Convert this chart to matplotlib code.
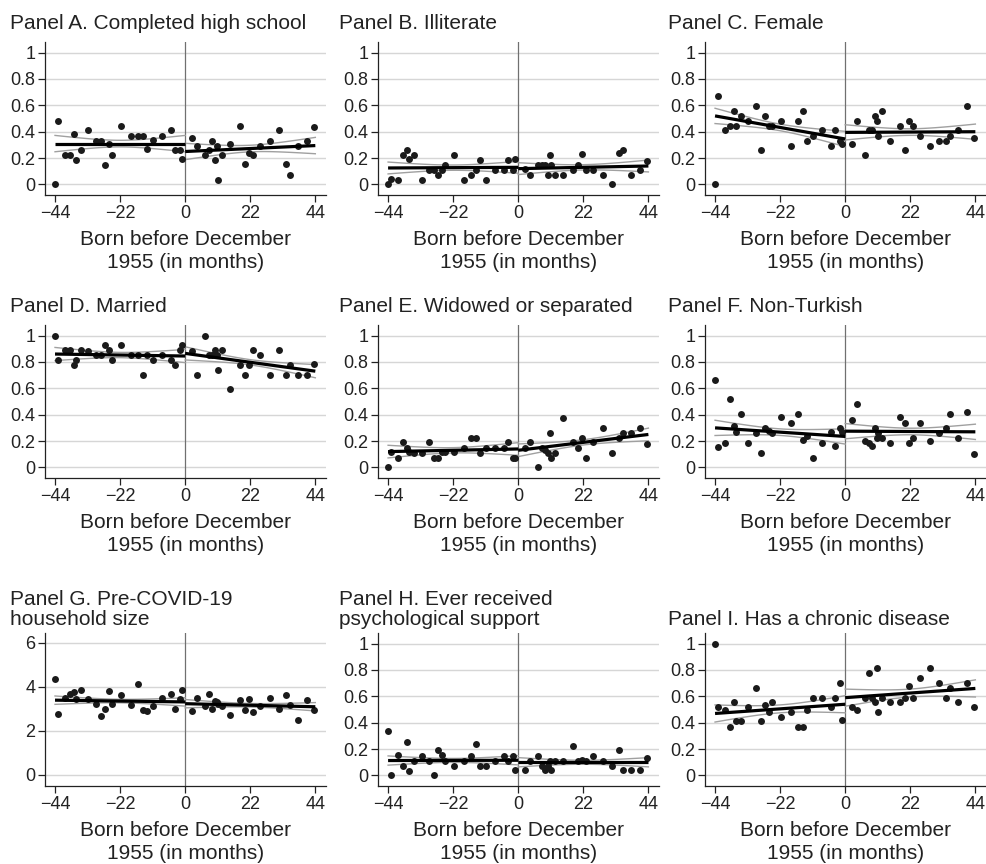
import numpy as np
import matplotlib
matplotlib.use("Agg")
import matplotlib.pyplot as plt

plt.rcParams["font.family"] = ["Liberation Sans", "DejaVu Sans"]

# Binned means of each outcome, by month of birth relative to December 1955.
# The same month bins are used in every panel (24 before, 22 after the cutoff).
months = [-44, -43, -40.5, -38.8, -37.6, -37, -35.2, -32.7, -30.3, -28.5, -27.2, -25.8,
          -24.8, -21.8, -18.4, -16.1, -14.4, -12.9, -10.8, -7.7, -4.9, -3.4, -1.7, -1.0,
          2.2, 4.1, 6.6, 8.1, 9.2, 10.2, 10.9, 11.1, 12.3, 15.2, 18.4, 20.3, 21.7, 23.0,
          25.3, 28.7, 31.7, 34.0, 35.4, 38.0, 41.2, 43.4]

high_school = [0, 0.485, 0.225, 0.225, 0.386, 0.187, 0.26, 0.41, 0.33, 0.33, 0.15, 0.305,
               0.225, 0.445, 0.37, 0.37, 0.37, 0.27, 0.335, 0.37, 0.41, 0.26, 0.26, 0.19,
               0.35, 0.295, 0.225, 0.26, 0.33, 0.187, 0.295, 0.035, 0.225, 0.305, 0.445, 0.155,
               0.235, 0.225, 0.295, 0.33, 0.41, 0.155, 0.075, 0.295, 0.33, 0.435]
illiterate = [0, 0.04, 0.035, 0.225, 0.26, 0.195, 0.225, 0.035, 0.11, 0.11, 0.075, 0.11,
              0.15, 0.225, 0.035, 0.075, 0.11, 0.187, 0.035, 0.11, 0.11, 0.187, 0.11, 0.19,
              0.115, 0.075, 0.15, 0.15, 0.15, 0.075, 0.225, 0.15, 0.075, 0.075, 0.11, 0.15,
              0.23, 0.11, 0.11, 0.075, 0, 0.24, 0.26, 0.075, 0.11, 0.175]
female = [0, 0.67, 0.41, 0.445, 0.56, 0.445, 0.52, 0.485, 0.595, 0.26, 0.52, 0.445,
          0.445, 0.485, 0.295, 0.485, 0.56, 0.33, 0.37, 0.41, 0.295, 0.41, 0.33, 0.305,
          0.305, 0.485, 0.225, 0.41, 0.41, 0.52, 0.485, 0.37, 0.56, 0.33, 0.445, 0.26,
          0.485, 0.445, 0.37, 0.295, 0.33, 0.33, 0.37, 0.41, 0.595, 0.35]
married = [1.0, 0.817, 0.89, 0.89, 0.78, 0.817, 0.89, 0.885, 0.85, 0.85, 0.93, 0.89,
           0.817, 0.93, 0.85, 0.85, 0.70, 0.85, 0.817, 0.85, 0.817, 0.78, 0.89, 0.93,
           0.885, 0.70, 1.0, 0.85, 0.85, 0.89, 0.85, 0.74, 0.89, 0.595, 0.78, 0.70,
           0.78, 0.89, 0.85, 0.70, 0.89, 0.70, 0.78, 0.70, 0.70, 0.785]
widowed = [0, 0.118, 0.075, 0.19, 0.15, 0.118, 0.113, 0.113, 0.196, 0.075, 0.075, 0.118,
           0.118, 0.118, 0.15, 0.226, 0.226, 0.113, 0.15, 0.15, 0.15, 0.19, 0.075, 0.075,
           0.15, 0.19, 0, 0.15, 0.13, 0.113, 0.26, 0.075, 0.113, 0.374, 0.19, 0.15,
           0.226, 0.075, 0.19, 0.30, 0.113, 0.226, 0.26, 0.26, 0.30, 0.178]
non_turkish = [0.666, 0.156, 0.186, 0.52, 0.314, 0.27, 0.407, 0.186, 0.26, 0.113, 0.30, 0.28,
               0.26, 0.384, 0.334, 0.407, 0.21, 0.24, 0.075, 0.186, 0.27, 0.16, 0.30, 0.27,
               0.36, 0.48, 0.2, 0.186, 0.16, 0.30, 0.224, 0.26, 0.224, 0.186, 0.384, 0.334,
               0.186, 0.224, 0.334, 0.2, 0.26, 0.30, 0.407, 0.224, 0.42, 0.10]
household_size = [4.35, 2.77, 3.48, 3.70, 3.79, 3.44, 3.85, 3.44, 3.24, 2.70, 3.0, 3.82,
                  3.24, 3.62, 3.20, 4.15, 2.97, 2.89, 3.12, 3.48, 3.70, 3.0, 3.44, 3.85,
                  2.89, 3.52, 3.12, 3.67, 3.0, 3.35, 3.30, 3.24, 3.12, 2.73, 3.39, 2.97,
                  3.44, 2.85, 3.12, 3.52, 3.0, 3.62, 3.20, 2.52, 3.42, 2.97]
psych_support = [0.335, 0, 0.155, 0.075, 0.255, 0.037, 0.11, 0.15, 0.11, 0, 0.195, 0.155,
                 0.11, 0.075, 0.11, 0.15, 0.235, 0.075, 0.075, 0.11, 0.15, 0.11, 0.15, 0.043,
                 0.043, 0.11, 0.15, 0.075, 0.043, 0.075, 0.11, 0.043, 0.11, 0.11, 0.22, 0.11,
                 0.115, 0.11, 0.15, 0.11, 0.075, 0.19, 0.04, 0.04, 0.04, 0.13]
chronic_disease = [1.0, 0.52, 0.50, 0.37, 0.556, 0.41, 0.41, 0.52, 0.667, 0.41, 0.538, 0.483,
                   0.556, 0.445, 0.483, 0.37, 0.37, 0.50, 0.59, 0.59, 0.52, 0.59, 0.70, 0.42,
                   0.52, 0.50, 0.59, 0.78, 0.59, 0.556, 0.815, 0.483, 0.59, 0.556, 0.556, 0.59,
                   0.68, 0.59, 0.74, 0.815, 0.70, 0.59, 0.667, 0.556, 0.70, 0.52]

titles = ["Panel A. Completed high school", "Panel B. Illiterate", "Panel C. Female",
          "Panel D. Married", "Panel E. Widowed or separated", "Panel F. Non-Turkish",
          "Panel G. Pre-COVID-19\nhousehold size", "Panel H. Ever received\npsychological support",
          "Panel I. Has a chronic disease"]
series = [high_school, illiterate, female, married, widowed, non_turkish,
          household_size, psych_support, chronic_disease]

# linear fits on each side: value at -44, at 0 (left), at 0 (right), at 44
fit_values = [[0.31, 0.31, 0.25, 0.295], [0.125, 0.13, 0.12, 0.14], [0.52, 0.345, 0.395, 0.40],
              [0.86, 0.845, 0.865, 0.73], [0.12, 0.14, 0.13, 0.25], [0.30, 0.235, 0.275, 0.27],
              [3.40, 3.32, 3.24, 3.10], [0.113, 0.115, 0.10, 0.10], [0.47, 0.54, 0.59, 0.66]]
# 95% CI half-width at the segment ends and at the segment middle
ci_end = [0.062, 0.045, 0.058, 0.05, 0.048, 0.058, 0.19, 0.035, 0.065]
ci_mid = [0.025, 0.02, 0.025, 0.02, 0.02, 0.025, 0.08, 0.015, 0.03]

x_ticks = [-44, -22, 0, 22, 44]
unit_ticks = [0, 0.2, 0.4, 0.6, 0.8, 1]
size_ticks = [0, 2, 4, 6]

fig = plt.figure(figsize=(9.86, 8.64), dpi=100)
lefts = [0.0456, 0.3834, 0.715]
bottoms = [0.7743, 0.4468, 0.0903]
W, H = 0.285, 0.177
title_dx = [-35, -39, -37]      # pixels left of the axes
title_dy = [9.3, 9.0, 4.5]      # pixels above the axes

for i in range(9):
    r, c = divmod(i, 3)
    ax = fig.add_axes([lefts[c], bottoms[r], W, H])
    y = series[i]

    ax.axvline(0, color="#707070", lw=0.9, zorder=1)
    ax.scatter(months, y, s=25, color="#1a1a1a", linewidths=0, zorder=3)

    fv = fit_values[i]
    for (a, b, ya, yb) in [(-44, 0, fv[0], fv[1]), (0, 44, fv[2], fv[3])]:
        xs = np.linspace(a, b, 60)
        fit = ya + (yb - ya) * (xs - a) / (b - a)
        t = (xs - (a + b) / 2) / ((b - a) / 2)
        hw = np.sqrt(ci_mid[i] ** 2 + (ci_end[i] ** 2 - ci_mid[i] ** 2) * t ** 2)
        ax.plot(xs, fit + hw, color="#a0a0a0", lw=1.0, zorder=2)
        ax.plot(xs, fit - hw, color="#a0a0a0", lw=1.0, zorder=2)
        ax.plot(xs, fit, color="black", lw=2.3, zorder=4, solid_capstyle="butt")

    ax.set_xlim(-47.4, 47.6)
    ax.set_xticks(x_ticks)
    if i == 6:
        ax.set_ylim(-0.5, 6.45)
        ax.set_yticks(size_ticks)
        ax.set_yticklabels([str(v) for v in size_ticks])
    else:
        ax.set_ylim(-0.08, 1.08)
        ax.set_yticks(unit_ticks)
        ax.set_yticklabels(["0", "0.2", "0.4", "0.6", "0.8", "1"])

    ax.yaxis.grid(True, color="#d6d6d6", lw=1.0)
    ax.set_axisbelow(True)
    for s in ["top", "right"]:
        ax.spines[s].set_visible(False)
    for s in ["left", "bottom"]:
        ax.spines[s].set_linewidth(0.9)
        ax.spines[s].set_color("#222222")
    ax.tick_params(direction="out", length=5, width=0.9, labelsize=13, pad=2,
                   colors="#222222")
    ax.set_xlabel("Born before December\n1955 (in months)", fontsize=15, labelpad=6,
                  color="#222222", linespacing=1.25)

    ax.annotate(titles[i], xy=(0, 1), xycoords="axes fraction",
                xytext=(title_dx[c] * 0.72, title_dy[r] * 0.72), textcoords="offset points",
                ha="left", va="bottom", fontsize=15, color="#222222", linespacing=1.05)

fig.savefig("out.png", dpi=100)
